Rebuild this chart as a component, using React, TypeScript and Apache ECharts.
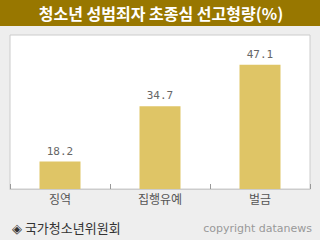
import React, { useEffect, useRef } from "react";
import * as echarts from "echarts";

const title = "청소년 성범죄자 초종심 선고형량(%)";
const categories = ["징역", "집행유예", "벌금"];
const values = [18.2, 34.7, 47.1];
const source = "◈ 국가청소년위원회";
const credit = "copyright datanews";

export default function App() {
  const ref = useRef<HTMLDivElement>(null);
  useEffect(() => {
    if (!ref.current) return;
    const chart = echarts.init(ref.current, null, { renderer: "svg" });
    chart.setOption({
      animation: false,
      backgroundColor: "#eeeeee",
      grid: {
        left: 10,
        top: 35,
        width: 300,
        height: 154,
        show: true,
        backgroundColor: "#ffffff",
        borderColor: "#cccccc",
        borderWidth: 1,
      },
      xAxis: {
        type: "category",
        data: categories,
        axisLine: { lineStyle: { color: "#cccccc", width: 1 } },
        axisTick: { show: true, inside: true, length: 5, lineStyle: { color: "#999999" } },
        axisLabel: {
          color: "#555555",
          fontSize: 12,
          margin: 3,
          fontFamily: "Noto Sans CJK KR",
        },
      },
      yAxis: {
        type: "value",
        min: 10,
        max: 56,
        show: false,
        splitLine: { show: false },
      },
      series: [
        {
          type: "bar",
          data: values,
          barWidth: 41,
          itemStyle: { color: "#dfc566" },
          label: {
            show: true,
            position: "top",
            distance: 5,
            color: "#666666",
            fontSize: 11,
            fontFamily: "DejaVu Sans Mono",
            formatter: (p: any) => p.value.toFixed(1),
          },
        },
      ],
      graphic: [
        {
          type: "rect",
          shape: { x: 0, y: 0, width: 320, height: 26 },
          style: { fill: "#987700" },
          silent: true,
        },
        {
          type: "text",
          x: 161,
          y: 13,
          style: {
            text: title,
            fill: "#ffffff",
            fontSize: 16,
            fontWeight: "bold",
            fontFamily: "Noto Sans CJK KR",
            align: "center",
            verticalAlign: "middle",
          },
        },
        {
          type: "text",
          x: 12,
          y: 227,
          style: {
            text: source,
            fill: "#333333",
            fontSize: 13,
            fontFamily: "Noto Sans CJK KR",
            align: "left",
            verticalAlign: "middle",
          },
        },
        {
          type: "text",
          x: 312,
          y: 228,
          style: {
            text: credit,
            fill: "#999999",
            fontSize: 11,
            fontFamily: "DejaVu Sans",
            align: "right",
            verticalAlign: "middle",
          },
        },
      ],
    });
    return () => chart.dispose();
  }, []);
  return (
    <div
      ref={ref}
      style={{ position: "fixed", left: 0, top: 0, width: 320, height: 240 }}
    />
  );
}
